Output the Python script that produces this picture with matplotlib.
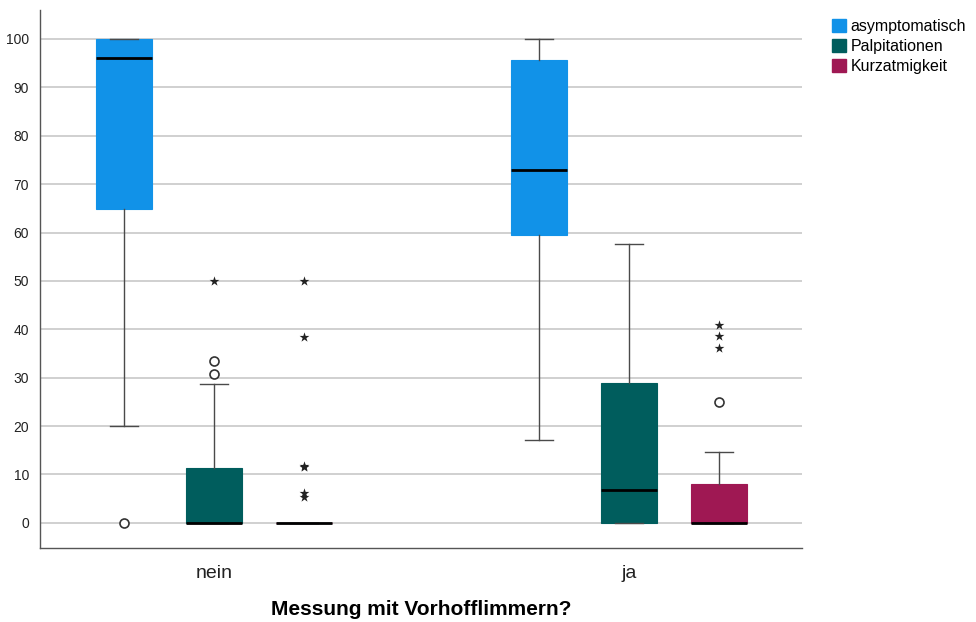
import matplotlib
matplotlib.use("Agg")
import matplotlib.pyplot as plt
from matplotlib.patches import Patch

plt.rcParams["font.family"] = ["Liberation Sans", "DejaVu Sans"]

groups = ["nein", "ja"]
series = ["asymptomatisch", "Palpitationen", "Kurzatmigkeit"]
colors = ["#1192e8", "#005d5d", "#9f1853"]

# box statistics per series, one entry per group (nein, ja)
q1 = [[64.9, 59.5], [0.0, 0.0], [0.0, 0.0]]
median = [[96.1, 72.9], [0.0, 6.8], [0.0, 0.0]]
q3 = [[100.0, 95.7], [11.4, 28.9], [0.0, 8.1]]
whis_lo = [[20.0, 17.1], [0.0, 0.0], [0.0, 0.0]]
whis_hi = [[100.0, 100.0], [28.7, 57.6], [0.0, 14.7]]

# outliers: circles = mild, stars = extreme
mild = [[[0.0], []], [[33.5, 30.8], []], [[], [25.0]]]
extreme = [[[], []], [[50.0], []], [[50.0, 38.4, 11.8, 11.5, 6.2, 5.4], [40.9, 38.6, 36.2]]]

yticks = list(range(0, 101, 10))

fig = plt.figure(figsize=(9.76, 6.22), dpi=100)
ax = fig.add_axes([0.041, 0.119, 0.781, 0.865])

offset = 0.217
width = 0.135
for s, name in enumerate(series):
    for g in range(len(groups)):
        x = g + (s - 1) * offset
        stats = [{
            "med": median[s][g], "q1": q1[s][g], "q3": q3[s][g],
            "whislo": whis_lo[s][g], "whishi": whis_hi[s][g], "fliers": [],
        }]
        ax.bxp(stats, positions=[x], widths=width, patch_artist=True,
               showfliers=False,
               boxprops=dict(facecolor=colors[s], edgecolor=colors[s], linewidth=0.8),
               medianprops=dict(color="black", linewidth=2),
               whiskerprops=dict(color="#4a4a4a", linewidth=1),
               capprops=dict(color="#4a4a4a", linewidth=1),
               capwidths=width / 2, manage_ticks=False, zorder=3)
        if mild[s][g]:
            ax.scatter([x] * len(mild[s][g]), mild[s][g], marker="o", s=42,
                       facecolors="white", edgecolors="#333333", linewidths=1.2, zorder=4)
        if extreme[s][g]:
            ax.scatter([x] * len(extreme[s][g]), extreme[s][g], marker="*", s=55,
                       color="#222222", linewidths=0, zorder=4)

ax.set_xlim(-0.419, 1.417)
ax.set_ylim(-5.2, 106)
ax.set_yticks(yticks)
ax.set_yticklabels([str(v) for v in yticks], fontsize=10, color="#222222")
ax.set_xticks(range(len(groups)))
ax.set_xticklabels(groups, fontsize=14, color="#222222")
ax.tick_params(axis="both", length=0)
ax.tick_params(axis="y", pad=8)
ax.tick_params(axis="x", pad=12)
ax.yaxis.grid(True, color="#c8c8c8", linewidth=1.2, zorder=0)
ax.set_axisbelow(True)
for side in ("top", "right"):
    ax.spines[side].set_visible(False)
for side in ("left", "bottom"):
    ax.spines[side].set_color("#555555")
    ax.spines[side].set_linewidth(1)

ax.set_xlabel("Messung mit Vorhofflimmern?", fontsize=15, fontweight="bold", labelpad=13)

handles = [Patch(facecolor=c, edgecolor=c) for c in colors]
fig.legend(handles, series, loc="upper left", bbox_to_anchor=(0.841, 0.988),
           frameon=False, fontsize=11.5, handlelength=0.9, handleheight=0.9,
           handletextpad=0.25, labelspacing=0.3, borderpad=0.2)

fig.savefig("out.png", dpi=100)
